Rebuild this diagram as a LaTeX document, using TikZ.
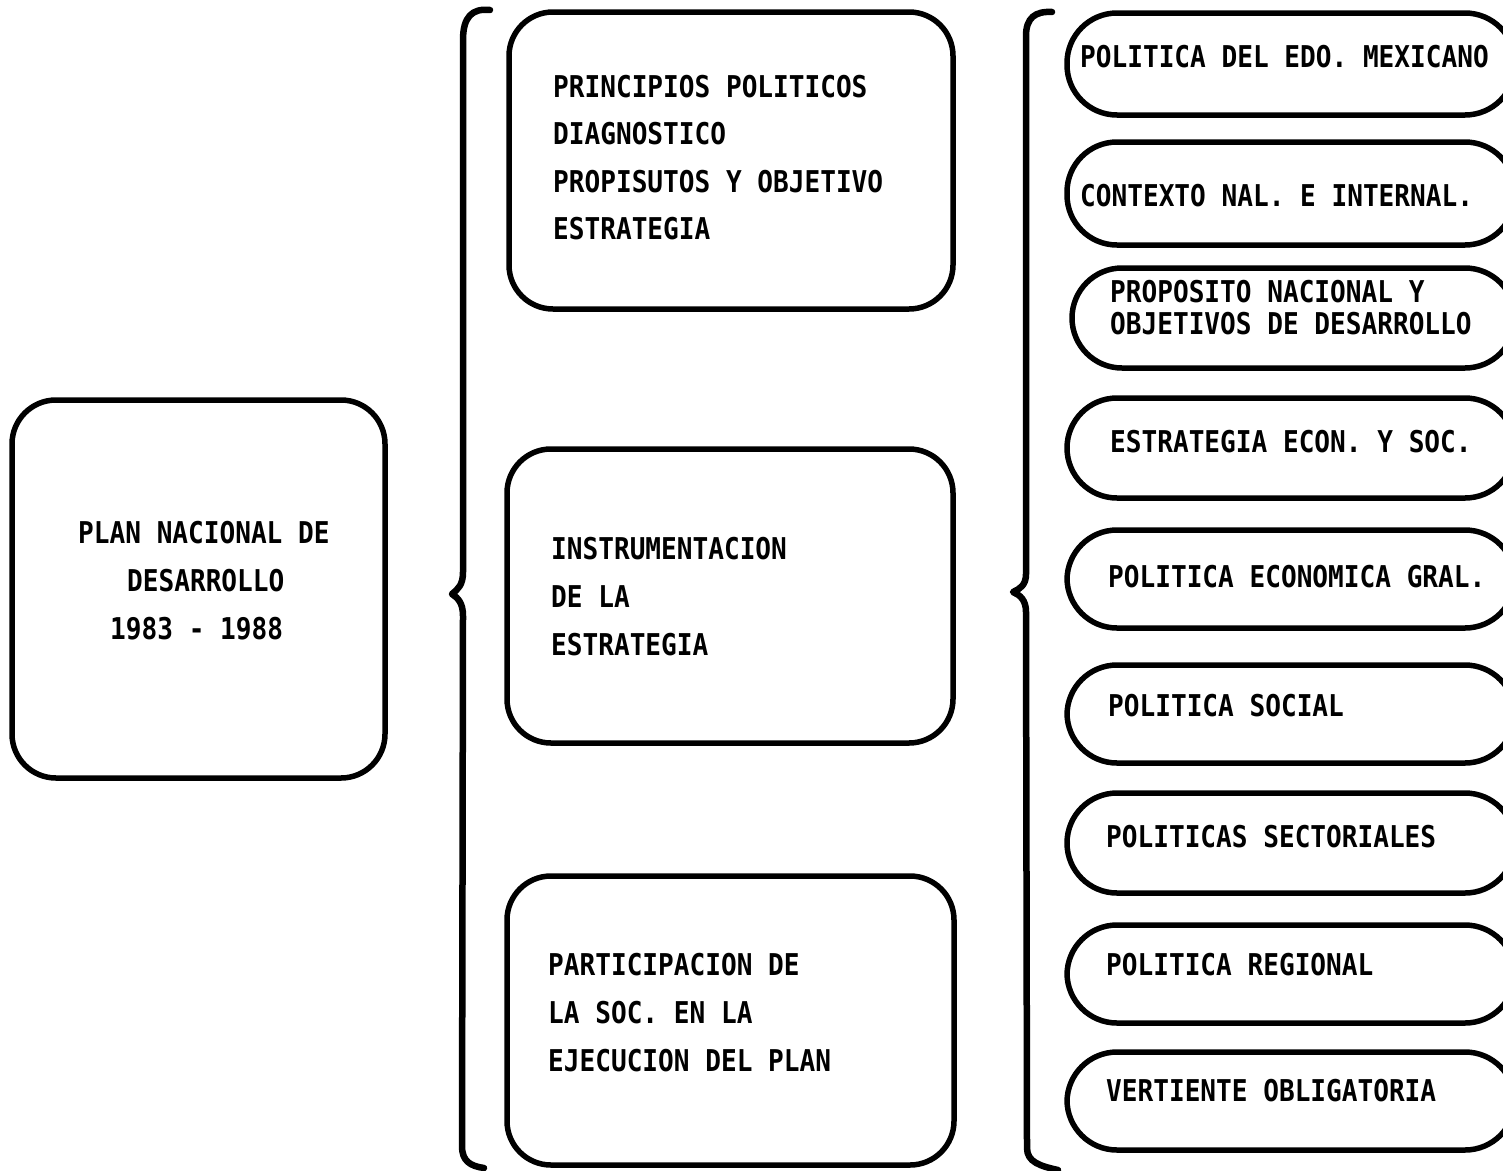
\documentclass[tikz,border=0pt]{standalone}
\usepackage{fontspec}
\newfontfamily\typefont{DejaVu Sans Mono Bold}[FakeStretch=0.87]
\begin{document}
\begin{tikzpicture}[x=1pt,y=-1pt,
  frame/.style={draw, line width=5.5pt, rounded corners=44pt, inner sep=0pt},
  pill/.style={draw, line width=5.5pt, rounded corners=50pt, inner sep=0pt,
               minimum width=448pt},
  txt/.style={anchor=base west, inner sep=0pt,
              font=\typefont\fontsize{30}{36}\selectfont},
  brace/.style={line width=6.5pt, line cap=round, line join=round}]
\useasboundingbox (0,0) rectangle (1503,1170);
\clip (0,0) rectangle (1503,1170);

% main plan box
\node[frame, minimum width=373pt, minimum height=378pt] (plan) at (198.5,589) {};
\node[txt] (plan1) at (78,543) {PLAN NACIONAL DE};
\node[txt] (plan2) at (127,591) {DESARROLLO};
\node[txt] (plan3) at (110,639) {1983 - 1988};

% left brace
\draw[brace] (490,10) .. controls (472,8) and (463,17) .. (463,40)
  -- (463,572) .. controls (463,585) and (458,589) .. (452,594)
  .. controls (458,598) and (463,603) .. (463,616)
  -- (462,1146) .. controls (462,1161) and (470,1166) .. (484,1168);

% middle column
\node[frame, minimum width=444pt, minimum height=297pt] (mid1) at (731,160.5) {};
\node[txt] (m1a) at (553,97) {PRINCIPIOS POLITICOS};
\node[txt] (m1b) at (553,144) {DIAGNOSTICO};
\node[txt] (m1c) at (553,192) {PROPISUTOS Y OBJETIVO};
\node[txt] (m1d) at (553,239) {ESTRATEGIA};

\node[frame, minimum width=446pt, minimum height=294pt] (mid2) at (730,596) {};
\node[txt] (m2a) at (551,559) {INSTRUMENTACION};
\node[txt] (m2b) at (551,607) {DE LA};
\node[txt] (m2c) at (551,655) {ESTRATEGIA};

\node[frame, minimum width=447pt, minimum height=289pt] (mid3) at (730.5,1020.5) {};
\node[txt] (m3a) at (548,975) {PARTICIPACION DE};
\node[txt] (m3b) at (548,1023) {LA SOC. EN LA};
\node[txt] (m3c) at (548,1071) {EJECUCION DEL PLAN};

% right brace
\draw[brace] (1052,12) .. controls (1035,11) and (1026,18) .. (1026,36)
  -- (1026,574) .. controls (1026,585) and (1020,589) .. (1013,592)
  .. controls (1020,595) and (1026,600) .. (1026,612)
  -- (1027,1148) .. controls (1027,1162) and (1040,1166) .. (1058,1170);

% right column of rounded items
\node[pill, minimum height=102pt] (r1) at (1291,64) {};
\node[txt] (r1t) at (1080,67) {POLITICA DEL EDO. MEXICANO};
\node[pill, minimum height=103pt] (r2) at (1291,193.5) {};
\node[txt] (r2t) at (1080,206) {CONTEXTO NAL. E INTERNAL.};
\node[pill, minimum height=100pt, minimum width=443pt] (r3) at (1293.5,318) {};
\node[txt] (r3a) at (1110,302) {PROPOSITO NACIONAL Y};
\node[txt] (r3b) at (1110,334) {OBJETIVOS DE DESARROLLO};
\node[pill, minimum height=100pt] (r4) at (1291,448) {};
\node[txt] (r4t) at (1110,452) {ESTRATEGIA ECON. Y SOC.};
\node[pill, minimum height=98pt] (r5) at (1291,579) {};
\node[txt] (r5t) at (1108,587) {POLITICA ECONOMICA GRAL.};
\node[pill, minimum height=98pt] (r6) at (1291,714) {};
\node[txt] (r6t) at (1108,716) {POLITICA SOCIAL};
\node[pill, minimum height=100pt] (r7) at (1291,843) {};
\node[txt] (r7t) at (1106,847) {POLITICAS SECTORIALES};
\node[pill, minimum height=98pt] (r8) at (1291,974) {};
\node[txt] (r8t) at (1106,975) {POLITICA REGIONAL};
\node[pill, minimum height=98pt] (r9) at (1291,1101) {};
\node[txt] (r9t) at (1106,1101) {VERTIENTE OBLIGATORIA};
\end{tikzpicture}
\end{document}
